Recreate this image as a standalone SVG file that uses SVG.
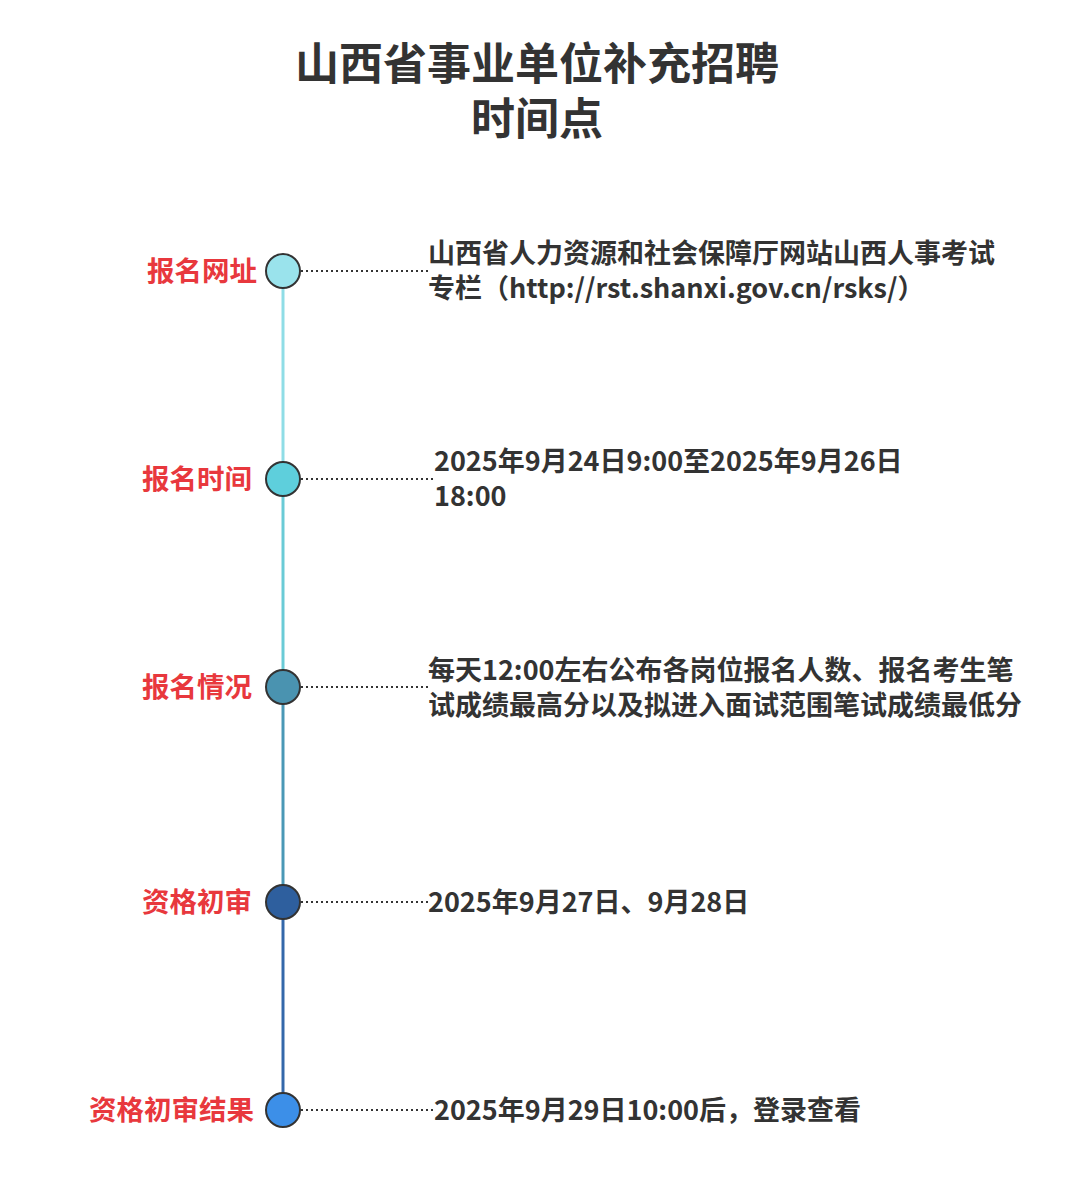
<svg xmlns="http://www.w3.org/2000/svg" width="1080" height="1181" viewBox="0 0 1080 1181">
<style>
text{font-family:"Noto Sans CJK SC","Liberation Sans",sans-serif;font-weight:bold}
.t{font-size:44px;fill:#333;text-anchor:middle}
.l{font-size:27.5px;fill:#e8383d;text-anchor:end}
.d{font-size:27px;fill:#333}
.n{stroke:#333;stroke-width:2}
.dot{stroke:#333;stroke-width:2;stroke-dasharray:2 3;fill:none}
.seg{stroke-width:3;fill:none}
</style>
<rect width="1080" height="1181" fill="#fff"/>
<text class="t" x="537" y="80">山西省事业单位补充招聘</text>
<text class="t" x="537" y="135">时间点</text>
<g id="connectors">
<line class="seg" x1="283" y1="288" x2="283" y2="462" stroke="#8fdde6"/>
<line class="seg" x1="283" y1="496" x2="283" y2="670" stroke="#6acbd6"/>
<line class="seg" x1="283" y1="704" x2="283" y2="885" stroke="#4a98b6"/>
<line class="seg" x1="283" y1="919" x2="283" y2="1093" stroke="#3468aa"/>
<line class="dot" x1="301" y1="271" x2="428" y2="271"/>
<line class="dot" x1="301" y1="479" x2="434" y2="479"/>
<line class="dot" x1="301" y1="687" x2="428" y2="687"/>
<line class="dot" x1="301" y1="902" x2="428" y2="902"/>
<line class="dot" x1="301" y1="1110" x2="434" y2="1110"/>
</g>
<g id="n1"><circle class="n" cx="283" cy="271" r="17" fill="#9ae3ec"/><text class="l" x="257" y="281">报名网址</text>
<text class="d" x="428" y="263">山西省人力资源和社会保障厅网站山西人事考试</text><text class="d" x="428" y="298">专栏（http://rst.shanxi.gov.cn/rsks/）</text></g>
<g id="n2"><circle class="n" cx="283" cy="479" r="17" fill="#5ecfdc"/><text class="l" x="252" y="489">报名时间</text>
<text class="d" x="434" y="471">2025年9月24日9:00至2025年9月26日</text><text class="d" x="434" y="506">18:00</text></g>
<g id="n3"><circle class="n" cx="283" cy="687" r="17" fill="#4a93b0"/><text class="l" x="252" y="697">报名情况</text>
<text class="d" x="428" y="680">每天12:00左右公布各岗位报名人数、报名考生笔</text><text class="d" x="428" y="715">试成绩最高分以及拟进入面试范围笔试成绩最低分</text></g>
<g id="n4"><circle class="n" cx="283" cy="902" r="17" fill="#2e5f9e"/><text class="l" x="252" y="912">资格初审</text>
<text class="d" x="428" y="912">2025年9月27日、9月28日</text></g>
<g id="n5"><circle class="n" cx="283" cy="1110" r="17" fill="#3c8fe8"/><text class="l" x="254" y="1120">资格初审结果</text>
<text class="d" x="434" y="1120">2025年9月29日10:00后，登录查看</text></g>
</svg>
